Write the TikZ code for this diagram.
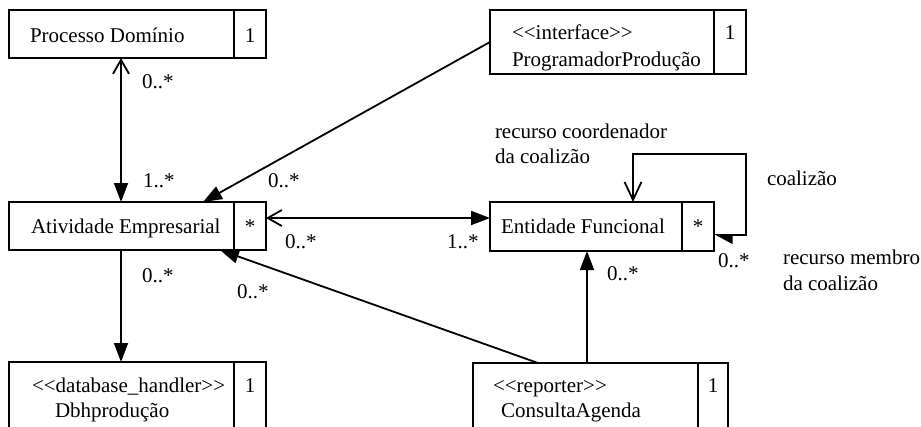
\documentclass[tikz,border=0pt]{standalone}
\usepackage{fontspec}
\setmainfont{Liberation Serif}
\usetikzlibrary{arrows.meta,calc}

\begin{document}
\begin{tikzpicture}[x=1pt,y=-1pt,
  every node/.style={inner sep=0pt, outer sep=0pt},
  box/.style={draw, line width=1.8pt, anchor=north west},
  txt/.style={font=\fontsize{21}{25}\selectfont, anchor=base west},
  mult/.style={font=\fontsize{21}{25}\selectfont, anchor=base},
  link/.style={line width=1.8pt},
  filledhead/.style={-{Triangle[length=19pt,width=14pt]}},
  bothheads/.style={{Straight Barb[length=14pt,width=16pt]}-{Triangle[length=19pt,width=14pt]}}
]
\useasboundingbox (0,0) rectangle (921,426);
\clip (0,0) rectangle (921,426);

% ---- classes: name compartment + multiplicity compartment
\node[box, minimum width=225pt, minimum height=48pt] (pd) at (9,10) {};
\node[box, minimum width=32pt, minimum height=48pt] (pdm) at (234,10) {};
\node[txt] (pdt) at (30,42) {Processo Domínio};
\node[mult] (pdn) at (250,42) {1};

\node[box, minimum width=224pt, minimum height=64pt] (pp) at (490,10) {};
\node[box, minimum width=32pt, minimum height=64pt] (ppm) at (714,10) {};
\node[txt] (ppt1) at (512,39) {{<}{<}interface{>}{>}};
\node[txt] (ppt2) at (512,66) {ProgramadorProdução};
\node[mult] (ppn) at (730,39) {1};

\node[box, minimum width=225pt, minimum height=48pt] (ae) at (9,202) {};
\node[box, minimum width=32pt, minimum height=48pt] (aem) at (234,202) {};
\node[txt] (aet) at (31,233) {Atividade Empresarial};
\node[mult] (aen) at (250,233) {*};

\node[box, minimum width=192pt, minimum height=49pt] (ef) at (490,202) {};
\node[box, minimum width=32pt, minimum height=49pt] (efm) at (682,202) {};
\node[txt] (eft) at (501,233) {Entidade Funcional};
\node[mult] (efn) at (698,233) {*};

\node[box, minimum width=225pt, minimum height=90pt] (db) at (9,362) {};
\node[box, minimum width=32pt, minimum height=90pt] (dbm) at (234,362) {};
\node[txt] (dbt1) at (32,392) {{<}{<}database\_handler{>}{>}};
\node[txt] (dbt2) at (55,417) {Dbhprodução};
\node[mult] (dbn) at (250,392) {1};

\node[box, minimum width=225pt, minimum height=90pt] (ca) at (473,363) {};
\node[box, minimum width=30pt, minimum height=90pt] (cam) at (698,363) {};
\node[txt] (cat1) at (493,392) {{<}{<}reporter{>}{>}};
\node[txt] (cat2) at (501,417) {ConsultaAgenda};
\node[mult] (can) at (713,392) {1};

% ---- connector end points
\coordinate (col) at (121,0);
\coordinate (aeIn) at ($(ae.north east)+(-31,0)$);
\coordinate (aeOut) at ($(ae.south east)+(-14,0)$);
\coordinate (aeR) at (aem.east |- 0,218);
\coordinate (efL) at (ef.west |- 0,218);
\coordinate (caA) at ($(ca.north west)+(65,0)$);
\coordinate (caE) at (587,363);
\coordinate (efB) at (587,251);
\coordinate (loopIn) at (efm.east |- 0,235);
\coordinate (loopTop) at (633,202);
\coordinate (loopC1) at (746,235);
\coordinate (loopC2) at (746,154);
\coordinate (loopC3) at (633,154);

% ---- associations
\draw[link, bothheads] (pd.south -| col) -- (ae.north -| col);
\draw[link, filledhead] (pp.west) -- (aeIn);
\draw[link, bothheads] (aeR) -- (efL);
\draw[link, filledhead] (ae.south -| col) -- (db.north -| col);
\draw[link, filledhead] (caA) -- (aeOut);
\draw[link, filledhead] (caE) -- (efB);
\draw[link, {Triangle[length=17pt,width=18pt,harpoon]}-{Straight Barb[length=18pt,width=17pt]}]
  (loopIn) -- (loopC1) -- (loopC2) -- (loopC3) -- (loopTop);

% ---- multiplicities and role names
\node[txt] (m1) at (142,88) {0..*};
\node[txt] (m2) at (143,187) {1..*};
\node[txt] (m3) at (268,187) {0..*};
\node[txt] (m4) at (285,248) {0..*};
\node[txt] (m5) at (447,248) {1..*};
\node[txt] (m6) at (142,282) {0..*};
\node[txt] (m7) at (237,298) {0..*};
\node[txt] (m8) at (607,280) {0..*};
\node[txt] (m9) at (718,267) {0..*};
\node[txt] (r1a) at (495,138) {recurso coordenador};
\node[txt] (r1b) at (495,163) {da coalizão};
\node[txt] (r2) at (767,185) {coalizão};
\node[txt] (r3a) at (783,264) {recurso membro};
\node[txt] (r3b) at (783,290) {da coalizão};
\end{tikzpicture}
\end{document}
